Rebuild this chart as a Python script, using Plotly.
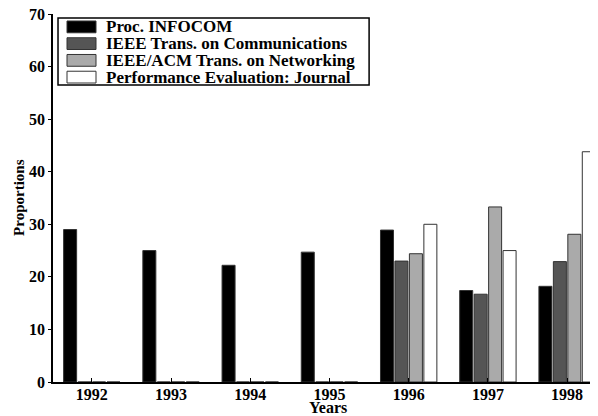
import plotly.graph_objects as go

years = ["1992", "1993", "1994", "1995", "1996", "1997", "1998"]
infocom = [29.0, 25.0, 22.2, 24.7, 28.9, 17.4, 18.2]
trans_comm = [0, 0, 0, 0, 23.0, 16.7, 22.9]
ton = [0, 0, 0, 0, 24.4, 33.3, 28.1]
perf_eval = [0, 0, 0, 0, 30.0, 25.0, 43.8]

series = [
    ("Proc. INFOCOM", infocom, "#000000"),
    ("IEEE Trans. on Communications", trans_comm, "#555555"),
    ("IEEE/ACM Trans. on Networking", ton, "#aaaaaa"),
    ("Performance Evaluation: Journal", perf_eval, "#ffffff"),
]

FONT = "Liberation Serif"

fig = go.Figure()
for name, vals, color in series:
    fig.add_trace(go.Bar(
        x=years, y=vals, name=name, showlegend=False,
        marker=dict(color=color, line=dict(color="#333333", width=1)),
    ))

# legend drawn as a box with swatches (paper coordinates of the plot area)
shapes = [dict(type="rect", xref="paper", yref="paper",
               x0=0.0092, x1=0.58, y0=0.807, y1=0.989,
               line=dict(color="black", width=1.5), fillcolor="white", layer="above")]
annotations = []
row_h = 0.0455
for i, (name, vals, color) in enumerate(series):
    yc = 0.965 - i * row_h
    shapes.append(dict(type="rect", xref="paper", yref="paper",
                       x0=0.0257, x1=0.0789, y0=yc - 0.016, y1=yc + 0.016,
                       line=dict(color="#333333", width=1), fillcolor=color, layer="above"))
    annotations.append(dict(text=name, xref="paper", yref="paper", x=0.0935, y=yc,
                            xanchor="left", yanchor="middle", showarrow=False,
                            font=dict(family=FONT, size=17, weight="bold", color="black")))

annotations += [
    dict(text="Years", xref="paper", yref="paper", x=0.505, y=-0.068,
         xanchor="center", yanchor="middle", showarrow=False,
         font=dict(family=FONT, size=16, weight="bold")),
    dict(text="Proportions", xref="paper", yref="paper", x=-0.0624, y=0.503,
         xanchor="center", yanchor="middle", showarrow=False, textangle=-90,
         font=dict(family=FONT, size=15, weight="bold")),
]

fig.update_layout(
    width=590, height=408,
    margin=dict(l=45, r=0, t=6, b=34, autoexpand=False),
    paper_bgcolor="white", plot_bgcolor="white",
    barmode="group", bargap=0.27, bargroupgap=0.1,
    font=dict(family=FONT, size=14, color="black", weight="bold"),
    xaxis=dict(
        type="category", range=[-0.49, 6.39], automargin=False,
        showline=True, linecolor="black", linewidth=1.5,
        ticks="inside", ticklen=4, tickcolor="black",
        showgrid=False, zeroline=False, ticklabelstandoff=-3,
        tickfont=dict(family=FONT, size=16, weight="bold"),
    ),
    yaxis=dict(
        range=[0, 70], tickvals=[0, 10, 20, 30, 40, 50, 60, 70],
        automargin=False, ticklabeloverflow="allow",
        showline=True, linecolor="black", linewidth=1.5,
        ticks="outside", ticklen=3, tickcolor="black",
        showgrid=False, zeroline=False,
        tickfont=dict(family=FONT, size=16, weight="bold"),
    ),
    shapes=shapes,
    annotations=annotations,
)

fig.write_html("out.html")
